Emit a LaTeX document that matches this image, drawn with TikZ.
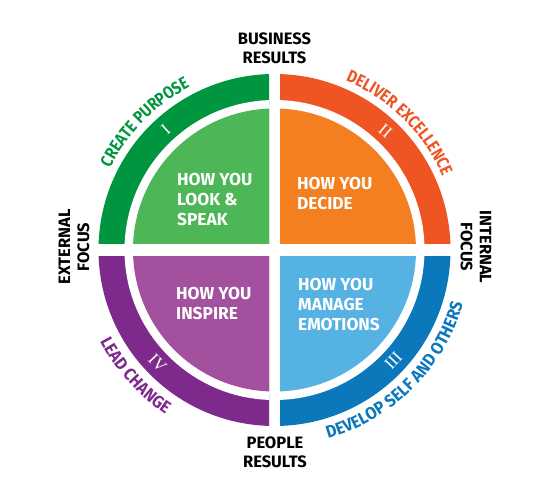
\documentclass[tikz,border=0pt]{standalone}
\usepackage{fontspec}
\usetikzlibrary{decorations.text,calc}
\newfontfamily\cond{Fira Sans}
\newfontfamily\condT{Fira Sans}[FakeStretch=0.85]
\newfontfamily\condB{Fira Sans}[FakeStretch=0.93]
\newfontfamily\numfont{Liberation Serif}
\definecolor{gRing}{RGB}{0,150,63}
\definecolor{gIn}{RGB}{77,183,87}
\definecolor{oRing}{RGB}{239,84,35}
\definecolor{oIn}{RGB}{244,127,32}
\definecolor{bRing}{RGB}{10,120,186}
\definecolor{bIn}{RGB}{86,178,227}
\definecolor{pRing}{RGB}{126,42,140}
\definecolor{pIn}{RGB}{163,80,158}
\newcommand{\labfont}{\cond\bfseries\fontsize{16.5}{19}\selectfont}
\newcommand{\infont}{\cond\bfseries\fontsize{17.3}{20}\selectfont}
\newcommand{\rfontT}{\condT\bfseries\fontsize{17.3}{20}\selectfont}
\newcommand{\rfontB}{\condB\bfseries\fontsize{17.3}{20}\selectfont}
\begin{document}
\begin{tikzpicture}[x=1pt,y=1pt,
  lab/.style={font=\labfont, text=black, align=center, inner sep=0pt},
  intext/.style={font=\infont, text=white, align=left, inner sep=0pt, anchor=north west},
  numeral/.style={font=\numfont\fontsize{17}{17}\selectfont, text=white, inner sep=0pt}]
\useasboundingbox (0,0) rectangle (549,482);
\fill[white] (0,0) rectangle (549,482);
\coordinate (C) at (274.5,232);
\def\Ro{176}\def\Ri{150}\def\Rd{141.5}
% quadrants
\foreach \xa/\ya/\xb/\yb/\rc/\ic in {
  0/238.7/269/482/gRing/gIn,
  280/238.7/549/482/oRing/oIn,
  280/0/549/225.3/bRing/bIn,
  0/0/269/225.3/pRing/pIn}{
  \begin{scope}
    \clip (\xa,\ya) rectangle (\xb,\yb);
    \fill[\rc] (C) circle[radius=\Ro];
    \fill[white] (C) circle[radius=\Ri];
    \fill[\ic] (C) circle[radius=\Rd];
  \end{scope}
}
% numerals
\node[numeral, rotate=42] (n1) at ($(C)+(132:162.5)$) {I};
\node[numeral, rotate=-40] (n2) at ($(C)+(47:162.5)$) {II};
\node[numeral, rotate=47] (n3) at ($(C)+(-43:162.5)$) {III};
\node[numeral, rotate=-46] (n4) at ($(C)+(224:162.5)$) {IV};
% arc texts
\path[decorate, decoration={text along path, text align=center,
  text={|\rfontT\color{gRing}|CREATE PURPOSE}}]
  ($(C)+(170:183.5)$) arc[start angle=170, end angle=101, radius=183.5];
\path[decorate, decoration={text along path, text align=center,
  text={|\rfontT\color{oRing}|DELIVER EXCELLENCE}}]
  ($(C)+(85:183.5)$) arc[start angle=85, end angle=6, radius=183.5];
\path[decorate, decoration={text along path, text align=center,
  text={|\rfontB\color{bRing}|DEVELOP SELF AND OTHERS}}]
  ($(C)+(-90:196)$) arc[start angle=-90, end angle=0, radius=196];
\path[decorate, decoration={text along path, text align=center,
  text={|\rfontB\color{pRing}|LEAD CHANGE}}]
  ($(C)+(190:197)$) arc[start angle=190, end angle=254, radius=197];
% inner texts
\node[intext] (t1) at (177,309) {HOW YOU\\LOOK \&\\SPEAK};
\node[intext] (t2) at (297,305) {HOW YOU\\DECIDE};
\node[intext] (t3) at (176,195) {HOW YOU\\INSPIRE};
\node[intext] (t4) at (298,204) {HOW YOU\\MANAGE\\EMOTIONS};
% outer labels
\node[lab, anchor=north] (top) at (274.5,449) {BUSINESS\\RESULTS};
\node[lab, anchor=north] (bot) at (275,45) {PEOPLE\\RESULTS};
\node[lab, rotate=90] (left) at (74,235) {EXTERNAL\\FOCUS};
\node[lab, rotate=-90] (right) at (476,235) {INTERNAL\\FOCUS};
\end{tikzpicture}
\end{document}
